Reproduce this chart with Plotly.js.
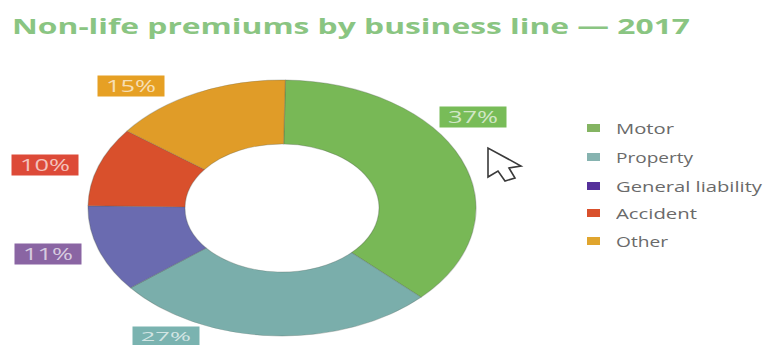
<!DOCTYPE html>
<html>
<head>
<meta charset="utf-8">
<script src="https://cdn.plot.ly/plotly-3.0.1.min.js"></script>
<style>html,body{margin:0;padding:0;background:#fff}#chart{width:763px;height:345px}</style>
</head>
<body>
<div id="chart"></div>
<script>
const categories = ['Motor', 'Property', 'General liability', 'Accident', 'Other'];
const shares = [37, 27, 11, 10, 15];
const sliceColors = ['#78b856', '#7aaeab', '#6a6bb0', '#d9502c', '#e09c28'];
const badgeColors = ['#78bc58', '#7ab3b0', '#8a65a3', '#dd4a38', '#e6a024'];
const legendColors = ['#84b462', '#86b3b0', '#55309a', '#d9502c', '#e0a52e'];
const titleText = 'Non-life premiums by business line — 2017';

const W = 763, H = 345;
const px = v => v / W, py = v => 1 - v / H;

// Donut centre and radii in page pixels; the pie is widened into an ellipse afterwards
const cx = 282, cy = 208, ry = 128, rx = 194;

// Badge centres and heights for the percentage labels
const badgeX = [473, 166, 48, 45, 131];
const badgeY = [117, 335.5, 254, 165, 86];
const badgeH = [20, 18, 20, 20, 20];
const badgeTextW = [50, 50, 50, 50, 50];
const legendY = [128, 157, 186, 213, 241];
const legendTextW = [58, 77, 146, 81, 52];

const annotations = categories.map((c, i) => ({
  xref: 'paper', yref: 'paper', x: px(badgeX[i]), y: py(badgeY[i]),
  xanchor: 'center', yanchor: 'middle', showarrow: false,
  text: shares[i] + '%', width: 66, height: badgeH[i], borderpad: 0,
  bgcolor: badgeColors[i], align: 'center', valign: 'middle',
  font: {family: 'Open Sans, sans-serif', size: i === 1 ? 13 : 16, color: 'rgba(255,255,255,0.68)'}
})).concat(categories.map((c, i) => ({
  xref: 'paper', yref: 'paper', x: px(615), y: py(legendY[i]),
  xanchor: 'left', yanchor: 'middle', showarrow: false, text: c,
  width: 148, align: 'left', borderpad: 0,
  font: {family: 'Open Sans, sans-serif', size: 14, color: '#6a6a6a'}
})));

const shapes = categories.map((c, i) => ({
  type: 'rect', xref: 'paper', yref: 'paper', line: {width: 0}, fillcolor: legendColors[i],
  x0: px(587), x1: px(600), y0: py(legendY[i] + 4), y1: py(legendY[i] - 4)
}));

// Pointer arrow sitting beside the chart
const arrow = [[488, 148], [488, 177], [498, 171], [505, 181], [515, 178], [509, 168], [521, 166]];
shapes.push({
  type: 'path', xref: 'paper', yref: 'paper', fillcolor: '#ffffff',
  line: {color: '#3a3a3a', width: 1.6},
  path: arrow.map((p, i) => (i ? 'L' : 'M') + px(p[0]) + ',' + py(p[1])).join(' ') + ' Z'
});

const trace = {
  type: 'pie', labels: categories, values: shares, sort: false,
  direction: 'clockwise', rotation: 1, hole: 0.5, textinfo: 'none', hoverinfo: 'label+percent',
  marker: {colors: sliceColors, line: {color: 'rgba(80,90,80,0.3)', width: 0.8}},
  domain: {x: [px(cx - ry), px(cx + ry)], y: [py(cy + ry), py(cy - ry)]}
};

const layout = {
  width: W, height: H, margin: {l: 0, r: 0, t: 0, b: 0}, showlegend: false,
  paper_bgcolor: '#fff',
  title: {
    text: '<b>' + titleText + '</b>', x: px(12), xanchor: 'left', xref: 'paper',
    y: py(27), yanchor: 'middle', yref: 'paper',
    font: {family: 'Open Sans, sans-serif', size: 21, color: '#8ac582'}
  },
  shapes, annotations
};

Plotly.newPlot('chart', [trace], layout, {displayModeBar: false}).then(gd => {
  // Stretch the donut horizontally about its centre
  const s = rx / ry;
  gd.querySelector('.pielayer').setAttribute('transform',
    `translate(${cx},0) scale(${s},1) translate(${-cx},0)`);

  // Widen text runs to the layout's wide letterforms
  const fit = (el, w) => {
    el.setAttribute('textLength', w);
    el.setAttribute('lengthAdjust', 'spacingAndGlyphs');
  };
  fit(gd.querySelector('.gtitle'), 678);
  const widths = badgeTextW.concat(legendTextW);
  gd.querySelectorAll('.annotation-text').forEach((el, i) => fit(el, widths[i]));
});
</script>
</body>
</html>
